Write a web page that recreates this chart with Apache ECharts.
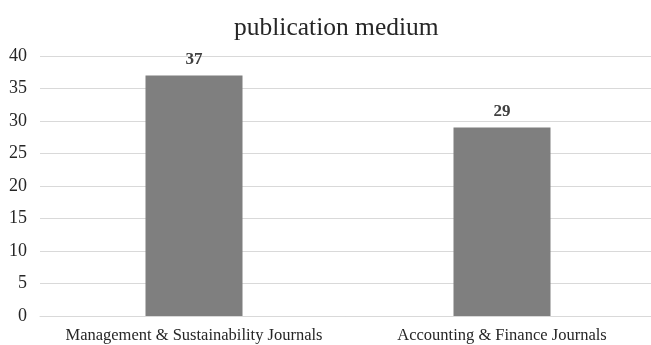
<!DOCTYPE html>
<html>
<head>
<meta charset="utf-8">
<script src="https://cdn.jsdelivr.net/npm/echarts@6/dist/echarts.min.js"></script>
<style>
  html, body { margin: 0; padding: 0; background: #ffffff; }
  #chart { width: 651px; height: 345px; }
</style>
</head>
<body>
<div id="chart"></div>
<script>
// Publication counts by journal type
const chartTitle = 'publication medium';
const categories = ['Management & Sustainability Journals', 'Accounting & Finance Journals'];
const counts = [37, 29];
const yTicks = [0, 5, 10, 15, 20, 25, 30, 35, 40];

const serif = '"Liberation Serif", "Times New Roman", serif';
const chart = echarts.init(document.getElementById('chart'), null, { renderer: 'canvas' });

chart.setOption({
  animation: false,
  backgroundColor: '#ffffff',
  title: {
    text: chartTitle,
    left: 229,
    top: 10,
    textStyle: { fontFamily: serif, fontSize: 25.5, fontWeight: 'normal', color: '#262626' }
  },
  grid: { left: 40, width: 616, top: 56, bottom: 29, containLabel: false, outerBoundsMode: 'none' },
  xAxis: {
    type: 'category',
    data: categories,
    axisLine: { show: true, lineStyle: { color: '#d9d9d9', width: 1 } },
    axisTick: { show: false },
    axisLabel: { fontFamily: serif, fontSize: 16.5, color: '#262626', margin: 11, interval: 0, hideOverlap: false }
  },
  yAxis: {
    type: 'value',
    min: yTicks[0],
    max: yTicks[yTicks.length - 1],
    interval: yTicks[1] - yTicks[0],
    axisLine: { show: false },
    axisTick: { show: false },
    splitLine: { lineStyle: { color: '#d9d9d9', width: 1 } },
    axisLabel: { fontFamily: serif, fontSize: 18, color: '#262626', margin: 13 }
  },
  series: [{
    type: 'bar',
    data: counts,
    barWidth: 97,
    itemStyle: { color: '#7f7f7f' },
    label: {
      show: true,
      position: 'top',
      distance: 7,
      fontFamily: serif,
      fontSize: 17,
      fontWeight: 'bold',
      color: '#404040'
    }
  }]
});
</script>
</body>
</html>
